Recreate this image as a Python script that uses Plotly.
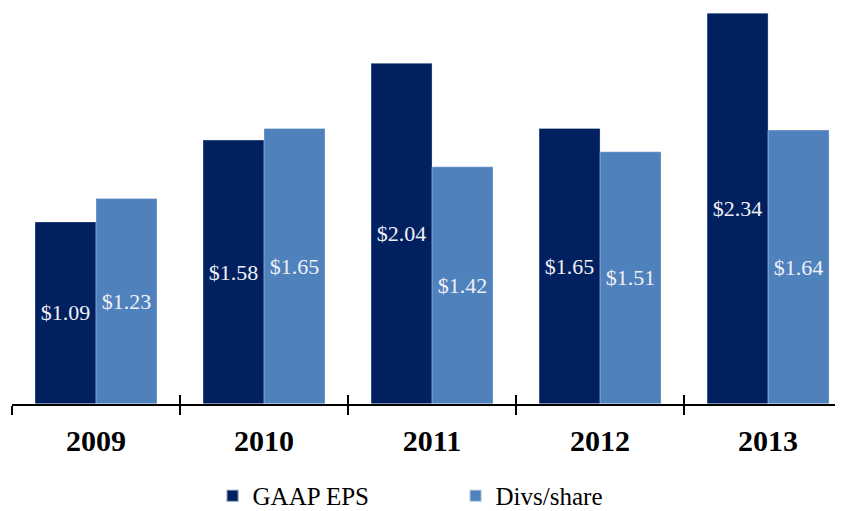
import plotly.graph_objects as go

years = ["2009", "2010", "2011", "2012", "2013"]
gaap_eps = [1.09, 1.58, 2.04, 1.65, 2.34]
divs_share = [1.23, 1.65, 1.42, 1.51, 1.64]
series_names = ["GAAP EPS", "Divs/share"]
colors = ["#002060", "#4F81BD"]

FONT = "Liberation Serif"

fig = go.Figure()
for name, vals, col in zip(series_names, [gaap_eps, divs_share], colors):
    fig.add_trace(go.Bar(
        x=years, y=vals, name=name,
        marker=dict(color=col, line=dict(color="rgba(255,255,255,0.5)", width=0.6)),
        text=[f"${v:.2f}" for v in vals],
        textposition="inside", insidetextanchor="middle",
        textfont=dict(family=FONT, size=22, color="#F0F0F5"),
        insidetextfont=dict(family=FONT, size=22, color="#F0F0F5"),
        constraintext="none",
        textangle=0,
        hoverinfo="skip",
    ))

fig.update_layout(
    width=835, height=503,
    margin=dict(l=4, r=0, t=0, b=107, pad=0),
    paper_bgcolor="white", plot_bgcolor="white",
    barmode="group", bargap=0.274, bargroupgap=0,
    font=dict(family=FONT, color="black"),
    showlegend=True,
    legend=dict(
        orientation="h", xref="container", yref="container",
        x=0.536, xanchor="center", y=0.03, yanchor="middle",
        font=dict(family=FONT, size=25, color="black"),
        entrywidth=198, entrywidthmode="pixels",
        itemsizing="constant", traceorder="normal",
    ),
    xaxis=dict(
        type="category", range=[-0.5, 4.446],
        showline=True, linecolor="black", linewidth=2,
        ticks="outside", tickson="boundaries", ticklen=9, tickwidth=1.5, tickcolor="black",
        tickfont=dict(family=FONT, size=30, color="black", weight="bold"),
        showgrid=False, zeroline=False, fixedrange=True,
        ticklabelstandoff=9,
    ),
    xaxis2=dict(
        type="category", matches="x", overlaying="x", side="bottom",
        showline=False, ticks="inside", tickson="boundaries", ticklen=9, tickwidth=1.5,
        tickcolor="black", showticklabels=False, showgrid=False, zeroline=False,
        categoryarray=years, categoryorder="array",
    ),
    yaxis=dict(range=[0, 2.371], visible=False, showgrid=False, zeroline=False, fixedrange=True),
)
fig.add_trace(go.Bar(x=years, y=[0]*5, xaxis="x2", showlegend=False, hoverinfo="skip",
                     marker=dict(color="rgba(0,0,0,0)")))

fig.write_html("out.html")
